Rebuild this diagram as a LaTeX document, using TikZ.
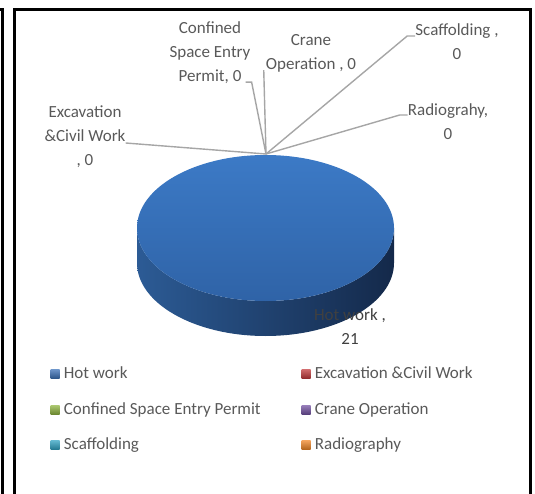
\documentclass[tikz,border=0pt]{standalone}
\usepackage{fontspec}
\setmainfont{Carlito}
\usetikzlibrary{positioning}
\definecolor{txtgray}{HTML}{595959}
\definecolor{hotgray}{HTML}{404040}
\definecolor{leadgray}{HTML}{A6A6A6}
\definecolor{pieTop}{HTML}{3C7AC6}
\definecolor{pieBot}{HTML}{2F63A7}
\definecolor{sideL}{HTML}{2C5B95}
\definecolor{sideM}{HTML}{1F4579}
\definecolor{sideR}{HTML}{14294A}
\definecolor{hotblue}{HTML}{3A6FB5}
\definecolor{excred}{HTML}{C0393B}
\definecolor{cnfgreen}{HTML}{8DB23E}
\definecolor{crnpurple}{HTML}{7150A0}
\definecolor{scfteal}{HTML}{2FA0C0}
\definecolor{radorange}{HTML}{EE8425}
\begin{document}
\begin{tikzpicture}[x=1pt, y=1pt,
    lbl/.style={text=txtgray, font=\fontsize{17}{24}\selectfont, align=center, inner sep=0pt},
    leader/.style={draw=leadgray, line width=1.4pt},
    key/.style={minimum size=9pt, inner sep=0pt, shade, top color=#1!75!white, bottom color=#1!75!black},
    keytext/.style={text=txtgray, font=\fontsize{17}{20}\selectfont, inner sep=0pt, text height=12pt, text depth=4pt}]
    \useasboundingbox (0,0) rectangle (535,493);
    \clip (0,0) rectangle (535,493);

    % frames
    \draw[line width=3pt] (-5,483.5) -- (2,483.5) -- (2,-5);
    \draw[line width=3pt] (14.5,-5) -- (14.5,483.5) -- (530.5,483.5) -- (530.5,-5);

    % pie
    \shade[left color=sideL, middle color=sideM, right color=sideR]
        (137,265) -- (137,230) arc[start angle=180, end angle=360, x radius=128.5, y radius=73]
        -- (394,265) arc[start angle=0, end angle=-180, x radius=128.5, y radius=73] -- cycle;
    \shade[top color=pieTop, bottom color=pieBot] (265.5,265) ellipse [x radius=128.5, y radius=73];
    \coordinate (apex) at (266,339);

    % data labels
    \node[lbl] (exca) at (85,356) {Excavation\\\&Civil Work\\, 0};
    \node[lbl] (conf) at (210,440) {Confined\\Space Entry\\Permit, 0};
    \node[lbl] (crane) at (311,440) {Crane\\Operation , 0};
    \node[lbl] (scaf) at (457,451) {Scaffolding ,\\0};
    \node[lbl] (radio) at (448,371) {Radiograhy,\\0};
    \node[lbl, text=hotgray] (hot) at (350,166) {Hot work ,\\21};

    \draw[leader] ([yshift=-6pt]exca.east) -- (apex);
    \draw[leader] ([xshift=-5pt,yshift=2pt]conf.south east) -- ++(6,0) -- (apex);
    \draw[leader] ([xshift=-2pt,yshift=2pt]crane.south west) -- (apex);
    \draw[leader] ([yshift=6pt]scaf.west) -- ++(-8,0) -- (apex);
    \draw[leader] ([yshift=7pt]radio.west) -- ++(-8,0) -- (apex);

    % legend
    \node[key=hotblue] (k1) at (55,119) {};
    \node[keytext, right=4pt of k1] (t1) {Hot work};
    \node[key=excred] (k2) at (306,119) {};
    \node[keytext, right=4pt of k2] (t2) {Excavation \&Civil Work};
    \node[key=cnfgreen] (k3) at (55,83) {};
    \node[keytext, right=4pt of k3] (t3) {Confined Space Entry Permit};
    \node[key=crnpurple] (k4) at (306,83) {};
    \node[keytext, right=4pt of k4] (t4) {Crane Operation};
    \node[key=scfteal] (k5) at (55,48) {};
    \node[keytext, right=4pt of k5] (t5) {Scaffolding};
    \node[key=radorange] (k6) at (306,48) {};
    \node[keytext, right=4pt of k6] (t6) {Radiography};
\end{tikzpicture}
\end{document}
